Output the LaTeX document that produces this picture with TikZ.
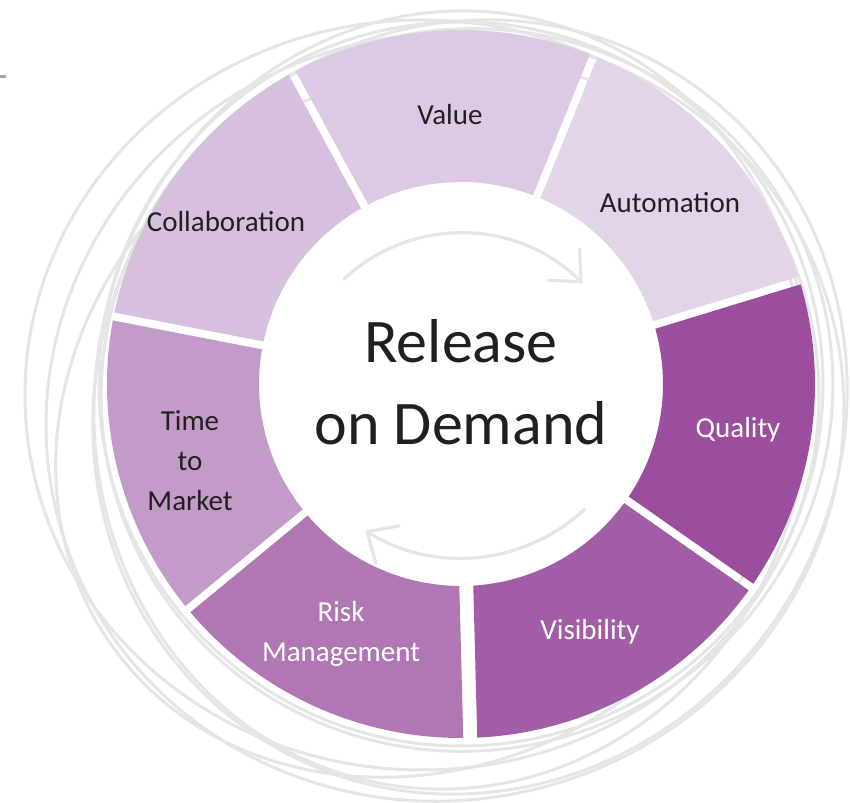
\documentclass[tikz,border=0pt]{standalone}
\usepackage{fontspec}
\setmainfont{Carlito}
\usetikzlibrary{arrows.meta}

\definecolor{ink}{RGB}{35,31,32}
\definecolor{sketchgray}{RGB}{228,229,230}
\definecolor{quality}{RGB}{154,78,157}
\definecolor{visib}{RGB}{161,93,166}
\definecolor{risk}{RGB}{176,119,180}
\definecolor{timemkt}{RGB}{195,155,200}
\definecolor{collab}{RGB}{215,192,222}
\definecolor{value}{RGB}{221,201,227}
\definecolor{automation}{RGB}{226,212,233}

\begin{document}
\begin{tikzpicture}[x=1pt,y=1pt,
    sketch/.style={draw=sketchgray,line width=3pt},
    turn/.style={draw=sketchgray,line width=3.2pt,line cap=round,
      -{Straight Barb[length=24pt,width=44pt,line cap=round]}},
    label/.style={font=\fontsize{29}{40}\selectfont,align=center},
    darklabel/.style={label,text=ink},
    lightlabel/.style={label,text=white}
  ]
    \useasboundingbox (0,0) rectangle (850,802);
    \coordinate (c) at (461,418);

    \foreach \x/\y/\rx/\ry/\r in {422/407/397/375/0, 445/385/400/383/15,
                                  452/402/357/390/-10, 467/412/367/360/25,
                                  461/418/362/362/0, 430/382/390/340/35,
                                  470/395/372/392/-30}
      {\draw[sketch,rotate around={\r:(\x,\y)}] (\x,\y) ellipse[x radius=\rx,y radius=\ry];};
    \draw[gray!70,line width=3pt] (0,725) -- (6,725);

    \fill[white] (c) circle[radius=202];

    \def\rin{202}
    \def\rout{354}
    \foreach \a/\b/\ga/\gb/\col in {-35/17/4/4/quality, 17/68/4/4/automation,
                                    68/118.5/4/4/value, 118.5/169/4/4/collab,
                                    169/219.5/4/4/timemkt, 219.5/271.5/4/7/risk,
                                    271.5/325/7/4/visib} {
      \pgfmathsetmacro\ao{\a+asin(\ga/\rout)}
      \pgfmathsetmacro\bo{\b-asin(\gb/\rout)}
      \pgfmathsetmacro\ai{\a+asin(\ga/\rin)}
      \pgfmathsetmacro\bi{\b-asin(\gb/\rin)}
      \fill[\col,shift={(c)}] (\ao:\rout) arc[start angle=\ao,end angle=\bo,radius=\rout]
        -- (\bi:\rin) arc[start angle=\bi,end angle=\ai,radius=\rin] -- cycle;
    };

    \draw[turn] (461,397) ++(133:172) arc[start angle=133,end angle=45,radius=172];
    \draw[turn] (461,425) ++(-47:181) arc[start angle=-47,end angle=-122,radius=181];

    \node[darklabel] (valuelbl) at (450,687) {Value};
    \node[darklabel] (automationlbl) at (670,599) {Automation};
    \node[darklabel] (collablbl) at (226,580) {Collaboration};
    \node[darklabel] (timelbl) at (190,341) {Time\\to\\Market};
    \node[lightlabel] (risklbl) at (341,168) {Risk\\Management};
    \node[lightlabel] (visiblbl) at (590,170) {Visibility};
    \node[lightlabel] (qualitylbl) at (738,372) {Quality};
    \node[font=\fontsize{62}{82}\selectfont,align=center,text=ink] (release) at (461,420) {Release\\on Demand};
\end{tikzpicture}
\end{document}
